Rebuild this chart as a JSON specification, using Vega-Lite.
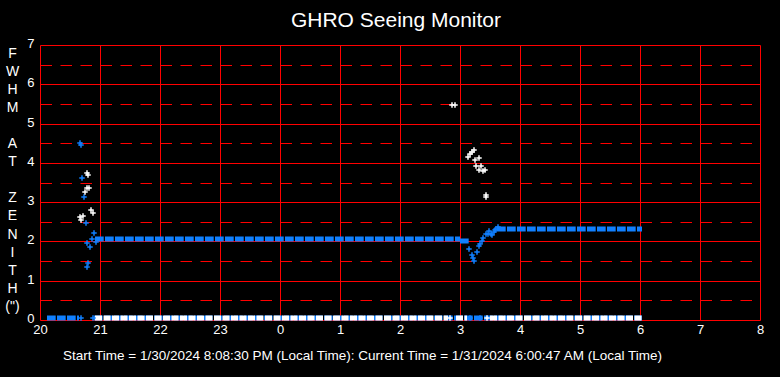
{
  "$schema": "https://vega.github.io/schema/vega-lite/v6.json",
  "width": 720,
  "height": 275,
  "autosize": {"type": "none"},
  "padding": {"left": 40, "top": 45, "right": 20, "bottom": 57},
  "background": "black",
  "config": {
    "view": {"stroke": null},
    "font": "Liberation Sans"
  },
  "title": {
    "text": "GHRO Seeing Monitor",
    "color": "white",
    "fontSize": 21,
    "fontWeight": "normal",
    "font": "Liberation Sans",
    "baseline": "alphabetic",
    "offset": -11,
    "dx": -4
  },
  "datasets": {
    "runs": [
      {"time": 20.11, "end": 20.65, "fwhm": 0.05, "series": "S1"},
      {"time": 20.90, "end": 30.03, "fwhm": 0.06, "series": "S1"},
      {"time": 20.92, "end": 27.00, "fwhm": 2.05, "series": "S1"},
      {"time": 27.00, "end": 27.15, "fwhm": 2.02, "series": "S1"},
      {"time": 27.62, "end": 30.03, "fwhm": 2.32, "series": "S1"},
      {"time": 20.92, "end": 26.80, "fwhm": 0.06, "series": "S2"},
      {"time": 26.93, "end": 27.12, "fwhm": 0.06, "series": "S2"},
      {"time": 27.50, "end": 30.03, "fwhm": 0.06, "series": "S2"}
    ],
    "points": [
      {"time": 20.68, "fwhm": 0.05, "series": "S1"},
      {"time": 20.88, "fwhm": 0.05, "series": "S1"},
      {"time": 27.17, "fwhm": 0.05, "series": "S1"},
      {"time": 27.33, "fwhm": 0.05, "series": "S1"},
      {"time": 20.67, "fwhm": 4.51, "series": "S1"},
      {"time": 20.69, "fwhm": 4.45, "series": "S1"},
      {"time": 20.705, "fwhm": 3.61, "series": "S1"},
      {"time": 20.74, "fwhm": 3.12, "series": "S1"},
      {"time": 20.76, "fwhm": 2.46, "series": "S1"},
      {"time": 20.90, "fwhm": 2.21, "series": "S1"},
      {"time": 20.78, "fwhm": 1.97, "series": "S1"},
      {"time": 20.87, "fwhm": 2.05, "series": "S1"},
      {"time": 20.83, "fwhm": 1.87, "series": "S1"},
      {"time": 20.93, "fwhm": 1.99, "series": "S1"},
      {"time": 20.805, "fwhm": 1.44, "series": "S1"},
      {"time": 20.79, "fwhm": 1.36, "series": "S1"},
      {"time": 27.155, "fwhm": 1.81, "series": "S1"},
      {"time": 27.20, "fwhm": 1.65, "series": "S1"},
      {"time": 27.22, "fwhm": 1.57, "series": "S1"},
      {"time": 27.24, "fwhm": 1.50, "series": "S1"},
      {"time": 27.28, "fwhm": 1.74, "series": "S1"},
      {"time": 27.32, "fwhm": 1.88, "series": "S1"},
      {"time": 27.33, "fwhm": 1.93, "series": "S1"},
      {"time": 27.37, "fwhm": 2.01, "series": "S1"},
      {"time": 27.39, "fwhm": 2.08, "series": "S1"},
      {"time": 27.43, "fwhm": 2.18, "series": "S1"},
      {"time": 27.46, "fwhm": 2.20, "series": "S1"},
      {"time": 27.48, "fwhm": 2.26, "series": "S1"},
      {"time": 27.51, "fwhm": 2.20, "series": "S1"},
      {"time": 27.53, "fwhm": 2.16, "series": "S1"},
      {"time": 27.56, "fwhm": 2.23, "series": "S1"},
      {"time": 27.58, "fwhm": 2.29, "series": "S1"},
      {"time": 27.60, "fwhm": 2.32, "series": "S1"},
      {"time": 27.64, "fwhm": 2.37, "series": "S1"},
      {"time": 26.83, "fwhm": 0.06, "series": "S2"},
      {"time": 27.45, "fwhm": 0.06, "series": "S2"},
      {"time": 20.78, "fwhm": 3.75, "series": "S2"},
      {"time": 20.805, "fwhm": 3.69, "series": "S2"},
      {"time": 20.75, "fwhm": 3.27, "series": "S2"},
      {"time": 20.79, "fwhm": 3.35, "series": "S2"},
      {"time": 20.82, "fwhm": 3.35, "series": "S2"},
      {"time": 20.85, "fwhm": 2.80, "series": "S2"},
      {"time": 20.89, "fwhm": 2.72, "series": "S2"},
      {"time": 20.67, "fwhm": 2.63, "series": "S2"},
      {"time": 20.71, "fwhm": 2.65, "series": "S2"},
      {"time": 20.68, "fwhm": 2.55, "series": "S2"},
      {"time": 26.87, "fwhm": 5.46, "series": "S2"},
      {"time": 26.91, "fwhm": 5.46, "series": "S2"},
      {"time": 27.14, "fwhm": 4.16, "series": "S2"},
      {"time": 27.17, "fwhm": 4.22, "series": "S2"},
      {"time": 27.20, "fwhm": 4.27, "series": "S2"},
      {"time": 27.24, "fwhm": 4.33, "series": "S2"},
      {"time": 27.32, "fwhm": 4.12, "series": "S2"},
      {"time": 27.25, "fwhm": 4.07, "series": "S2"},
      {"time": 27.27, "fwhm": 3.93, "series": "S2"},
      {"time": 27.31, "fwhm": 3.81, "series": "S2"},
      {"time": 27.35, "fwhm": 3.93, "series": "S2"},
      {"time": 27.39, "fwhm": 3.79, "series": "S2"},
      {"time": 27.42, "fwhm": 3.82, "series": "S2"},
      {"time": 27.43, "fwhm": 3.18, "series": "S2"},
      {"time": 27.44, "fwhm": 3.14, "series": "S2"}
    ]
  },
  "encoding": {
    "x": {
      "field": "time",
      "type": "quantitative",
      "scale": {"domain": [20, 32], "nice": false, "zero": false, "round": true},
      "axis": {
        "values": [20, 21, 22, 23, 24, 25, 26, 27, 28, 29, 30, 31, 32],
        "labelExpr": "'' + (datum.value % 24)",
        "grid": true,
        "gridColor": "#FF0000",
        "gridWidth": 1,
        "gridOpacity": 1,
        "domain": false,
        "ticks": false,
        "tickSize": 0,
        "labelColor": "white",
        "labelFont": "Liberation Sans",
        "labelFontSize": 13,
        "labelPadding": 3,
        "labelFlush": false,
        "labelOverlap": false,
        "title": "Start Time = 1/30/2024 8:08:30 PM (Local Time): Current Time = 1/31/2024 6:00:47 AM (Local Time)",
        "titleColor": "white",
        "titleFont": "Liberation Sans",
        "titleFontSize": 13.5,
        "titleFontWeight": "normal",
        "titleAnchor": null,
        "titleAlign": "center",
        "titleBaseline": "alphabetic",
        "titleX": 322,
        "titleY": 39
      }
    },
    "y": {
      "field": "fwhm",
      "type": "quantitative",
      "scale": {"domain": [0, 7], "nice": false, "round": true},
      "axis": {
        "values": [0, 0.5, 1, 1.5, 2, 2.5, 3, 3.5, 4, 4.5, 5, 5.5, 6, 6.5, 7],
        "labelExpr": "datum.value % 1 === 0 ? '' + datum.value : ''",
        "grid": true,
        "gridColor": "#FF0000",
        "gridWidth": 1,
        "gridOpacity": 1,
        "gridDash": {"condition": {"test": "datum.value % 1 !== 0", "value": [11.5, 8.5]}, "value": []},
        "domain": false,
        "ticks": false,
        "tickSize": 0,
        "labelColor": "white",
        "labelFont": "Liberation Sans",
        "labelFontSize": 13,
        "labelPadding": 6,
        "labelOffset": -2,
        "labelFlush": false,
        "labelOverlap": false,
        "title": ["F", "W", "H", "M", "\u200b", "A", "T", "\u200b", "Z", "E", "N", "I", "T", "H", "(\")"],
        "titleColor": "white",
        "titleFont": "Liberation Sans",
        "titleFontSize": 14,
        "titleFontWeight": "normal",
        "titleAngle": 0,
        "titleAlign": "center",
        "titleBaseline": "top",
        "titleAnchor": null,
        "titleLineHeight": 18.1,
        "titleX": -28,
        "titleY": 1
      }
    },
    "color": {
      "field": "series",
      "type": "nominal",
      "scale": {"domain": ["S1", "S2"], "range": ["#1080FF", "#FFFFFF"]},
      "legend": null
    }
  },
  "layer": [
    {
      "data": {"name": "runs"},
      "mark": {"type": "rule", "strokeWidth": 5},
      "encoding": {
        "x2": {"field": "end"},
        "strokeDash": {
          "field": "series",
          "type": "nominal",
          "scale": {"domain": ["S1", "S2"], "range": [[8.7, 1.3], [7, 1.5]]},
          "legend": null
        }
      }
    },
    {
      "data": {"name": "points"},
      "mark": {
        "type": "point",
        "shape": "M-1,0H1M0,-1V1",
        "filled": false,
        "size": 30,
        "strokeWidth": 1.5,
        "opacity": 1
      },
      "encoding": {}
    }
  ]
}
